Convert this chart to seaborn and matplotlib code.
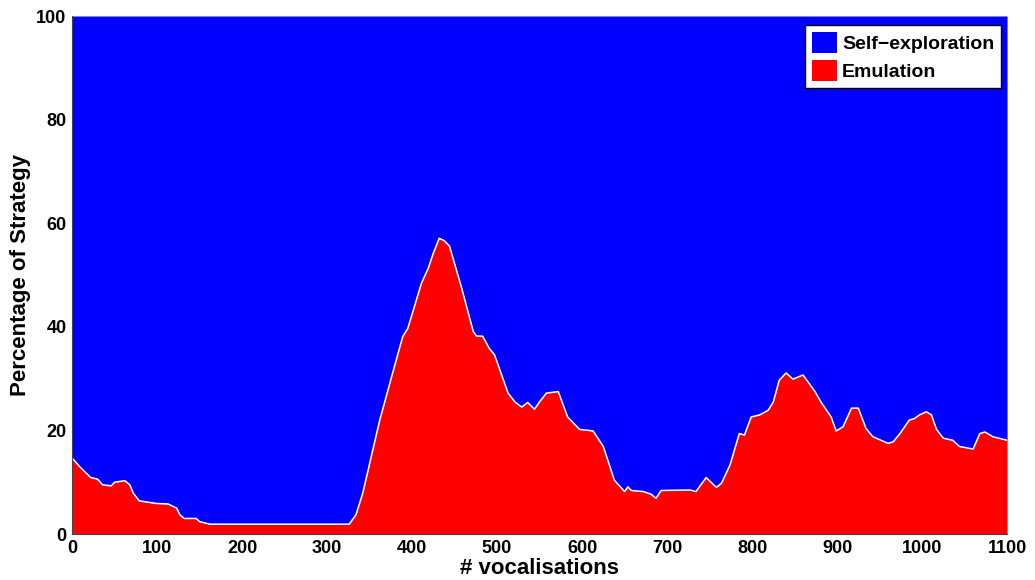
import numpy as np
import matplotlib
matplotlib.use("Agg")
import matplotlib.pyplot as plt
from matplotlib.patches import Patch
import seaborn as sns

# === Datos ===
vocalisations = [0, 9, 22, 30, 36, 46, 50, 62, 68, 72, 79, 99, 113, 123, 127, 132,
                 146, 150, 162, 200, 250, 300, 326, 334, 342, 362, 376, 389, 395,
                 411, 419, 425, 432, 438, 444, 458, 472, 476, 483, 491, 497, 513,
                 521, 529, 536, 544, 550, 558, 572, 583, 597, 613, 625, 638, 650,
                 654, 658, 672, 681, 687, 693, 727, 734, 746, 758, 764, 774, 785,
                 791, 799, 809, 819, 825, 832, 840, 848, 860, 874, 881, 893, 899,
                 907, 917, 925, 934, 942, 960, 966, 974, 985, 991, 997, 1005, 1011,
                 1017, 1025, 1036, 1044, 1060, 1068, 1074, 1083, 1100]
emulation = [14.7, 13.0, 10.9, 10.6, 9.5, 9.3, 10.0, 10.3, 9.5, 7.9, 6.4, 5.9, 5.8,
             5.0, 3.7, 3.0, 3.0, 2.4, 1.9, 1.9, 1.9, 1.9, 1.9, 3.7, 7.9, 22.0, 30.4,
             38.1, 39.7, 48.4, 51.3, 54.2, 57.1, 56.6, 55.6, 47.7, 39.1, 38.2, 38.2,
             35.8, 34.6, 27.2, 25.5, 24.5, 25.4, 24.1, 25.5, 27.2, 27.5, 22.6, 20.2,
             19.9, 16.9, 10.4, 8.2, 9.1, 8.4, 8.2, 7.7, 6.9, 8.4, 8.5, 8.2, 10.9,
             9.0, 9.8, 13.3, 19.4, 19.1, 22.6, 23.0, 23.9, 25.5, 29.7, 31.1, 29.9,
             30.7, 27.5, 25.5, 22.6, 19.9, 20.7, 24.3, 24.3, 20.4, 18.8, 17.5, 17.8,
             19.4, 22.0, 22.3, 23.0, 23.6, 23.0, 20.2, 18.5, 18.1, 16.9, 16.4, 19.4,
             19.7, 18.8, 18.1]
strategies = ["Self\u2212exploration", "Emulation"]
colores = ["#0000ff", "#ff0000"]

x = np.array(vocalisations, dtype=float)
emu = np.array(emulation)
self_exp = 100 - emu

# === Configuración visual ===
sns.set_style("white")
plt.rcParams["font.family"] = ["Liberation Sans", "DejaVu Sans"]
plt.rcParams["font.weight"] = "bold"
plt.rcParams["text.color"] = "black"
plt.rcParams["axes.labelcolor"] = "black"
plt.rcParams["xtick.color"] = "black"
plt.rcParams["ytick.color"] = "black"

fig = plt.figure(figsize=(10.35, 5.8), dpi=100)
ax = fig.add_axes([0.0696, 0.0793, 0.9034, 0.8931])

ax.stackplot(x, emu, self_exp, colors=[colores[1], colores[0]], linewidth=0)
sns.lineplot(x=x, y=emu, ax=ax, color="white", linewidth=1.1)

ax.set_xlim(0, 1100)
ax.set_ylim(0, 100)
ax.set_xticks(range(0, 1101, 100))
ax.set_yticks(range(0, 101, 20))
ax.tick_params(labelsize=13, length=0, pad=4)
for lbl in ax.get_xticklabels() + ax.get_yticklabels():
    lbl.set_fontweight("bold")

ax.set_xlabel("# vocalisations", fontsize=16, fontweight="bold", labelpad=1)
ax.set_ylabel("Percentage of Strategy", fontsize=16, fontweight="bold", labelpad=4)

for side in ["top", "right"]:
    ax.spines[side].set_visible(False)
for side in ["left", "bottom"]:
    ax.spines[side].set_color("#444444")
    ax.spines[side].set_linewidth(0.8)

handles = [Patch(facecolor=c, edgecolor="none") for c in colores]
leg = ax.legend(handles, strategies, loc="upper right", bbox_to_anchor=(0.9935, 0.983),
                fontsize=14, frameon=True, fancybox=False, handlelength=1.3,
                handleheight=1.3, handletextpad=0.25, borderpad=0.35, labelspacing=0.35,
                borderaxespad=0)
leg.get_frame().set_edgecolor("black")
leg.get_frame().set_linewidth(1.0)
leg.get_frame().set_alpha(1)
for t in leg.get_texts():
    t.set_fontweight("bold")

fig.savefig("out.png", dpi=100)
